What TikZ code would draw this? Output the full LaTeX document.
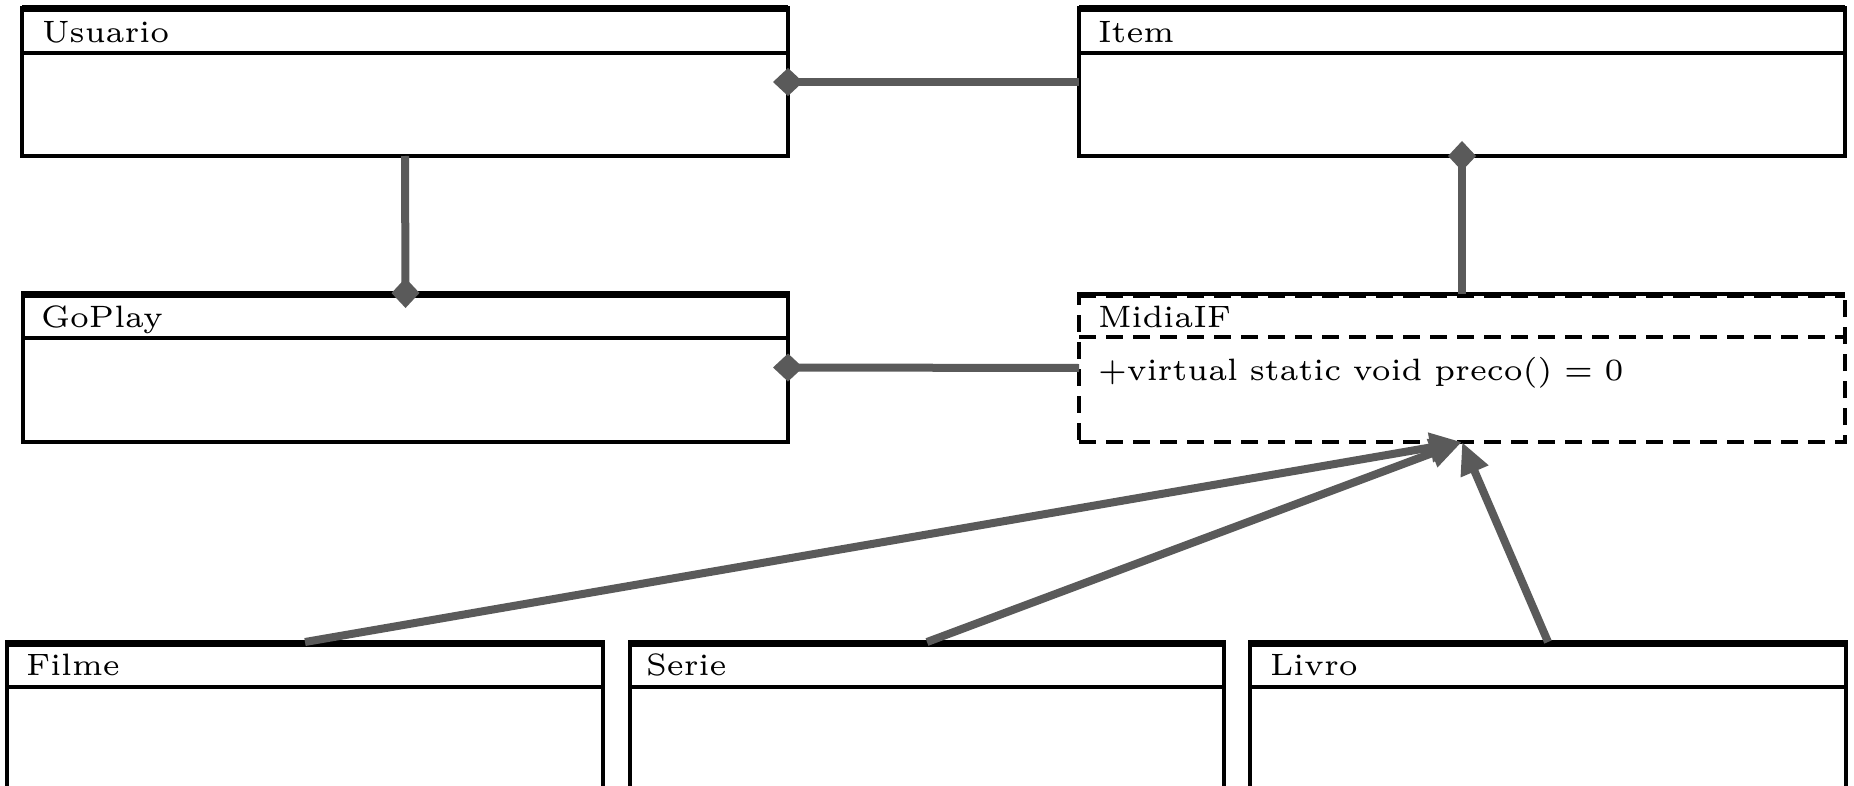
\documentclass[tikz,border=0pt]{standalone}
\usepackage{graphicx}
\usetikzlibrary{arrows.meta}
\definecolor{linegray}{RGB}{90,90,90}
\newcommand{\umltxt}[1]{\scalebox{5.15}{\fontsize{6}{7}\selectfont #1}}
\newcommand{\umlattr}[1]{\scalebox{5.15}{\fontsize{6}{7}\selectfont\spaceskip=0.38em plus 0.1em #1}}
\tikzset{
  classbox/.style={draw=black, line width=4pt, rectangle, anchor=north west, inner sep=0pt, outer sep=0pt},
  dashbox/.style={classbox, dash pattern=on 17pt off 10pt},
  topline/.style={draw=black, line width=7pt},
  hdrline/.style={draw=black, line width=4pt},
  umltitle/.style={anchor=base west, inner sep=0pt, outer sep=0pt},
  conn/.style={draw=linegray, line width=8pt},
  compstart/.style={conn, {Diamond[length=30pt,width=28pt]}-, shorten <=-15pt},
  compend/.style={conn, -{Diamond[length=30pt,width=28pt]}, shorten >=-15pt},
  inherit/.style={conn, -{Triangle[length=32pt,width=28pt]}}
}
\begin{document}
\begin{tikzpicture}[x=1pt,y=-1pt]
\path[use as bounding box] (0,0) rectangle (1854,786);
\clip (0,0) rectangle (1854,786);
% boxes
\node[classbox, minimum width=766pt, minimum height=148pt] (usuario) at (22,8) {};
\node[classbox, minimum width=766pt, minimum height=148pt] (item) at (1079,8) {};
\node[classbox, minimum width=765pt, minimum height=149pt] (goplay) at (23,293) {};
\node[dashbox, minimum width=766pt, minimum height=148pt] (midia) at (1079,294) {};
\node[classbox, minimum width=596pt, minimum height=160pt] (filme) at (7,642) {};
\node[classbox, minimum width=594pt, minimum height=160pt] (serie) at (630,642) {};
\node[classbox, minimum width=596pt, minimum height=160pt] (livro) at (1250,642) {};
% top lines and header separators
\foreach \b in {usuario,item,goplay,filme,serie,livro}{
  \draw[topline] ([yshift=-1pt]\b.north west) -- ([yshift=-1pt]\b.north east);
  \draw[hdrline] ([yshift=-45pt]\b.north west) -- ([yshift=-45pt]\b.north east);
}
\draw[hdrline, line width=6pt, dash pattern=on 17pt off 10pt] ([yshift=-1pt]midia.north west) -- ([yshift=-1pt]midia.north east);
\draw[hdrline, dash pattern=on 17pt off 10pt] ([yshift=-43pt]midia.north west) -- ([yshift=-43pt]midia.north east);
% titles
\node[umltitle] (usuarioT) at ([xshift=20pt,yshift=-35pt]usuario.north west) {\umltxt{Usuario}};
\node[umltitle] (itemT) at ([xshift=19pt,yshift=-35pt]item.north west) {\umltxt{Item}};
\node[umltitle] (goplayT) at ([xshift=18pt,yshift=-34pt]goplay.north west) {\umltxt{GoPlay}};
\node[umltitle] (midiaT) at ([xshift=19pt,yshift=-33pt]midia.north west) {\umltxt{MidiaIF}};
\node[umltitle] (midiaA) at ([xshift=19pt,yshift=-86pt]midia.north west) {\umlattr{+virtual static void preco() = 0}};
\node[umltitle] (filmeT) at ([xshift=19pt,yshift=-33pt]filme.north west) {\umltxt{Filme}};
\node[umltitle] (serieT) at ([xshift=16pt,yshift=-33pt]serie.north west) {\umltxt{Serie}};
\node[umltitle] (livroT) at ([xshift=20pt,yshift=-33pt]livro.north west) {\umltxt{Livro}};
% connectors
\draw[compstart] (usuario.east) -- (item.west);
\draw[compend] (usuario.south) -- (goplay.north);
\draw[compend] (midia.north) -- (item.south);
\draw[compstart] (goplay.east) -- (midia.west);
\draw[inherit] (filme.north) -- (midia.south);
\draw[inherit] (serie.north) -- (midia.south);
\draw[inherit] (livro.north) -- (midia.south);
\end{tikzpicture}
\end{document}
